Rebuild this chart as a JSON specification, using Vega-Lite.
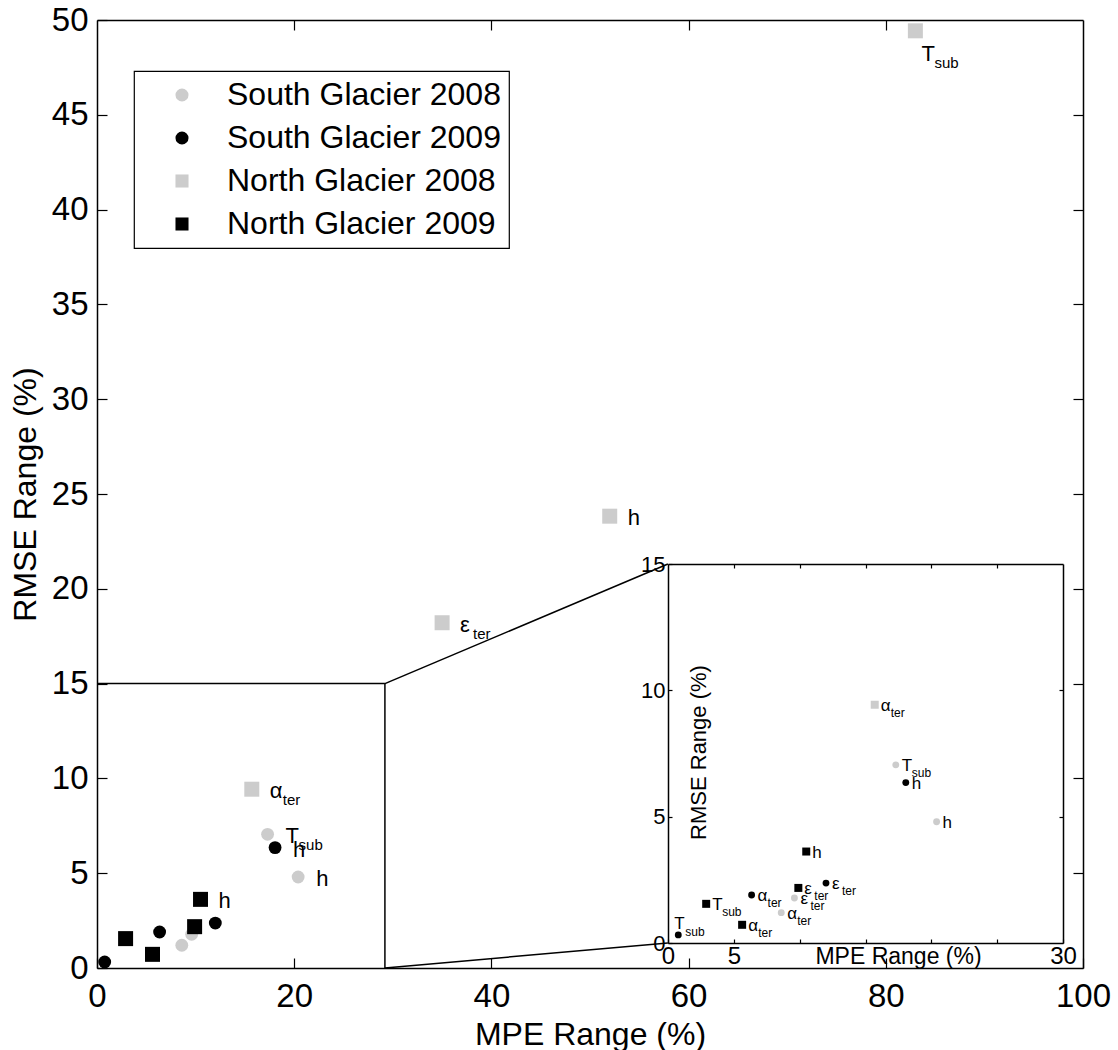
{
  "$schema": "https://vega.github.io/schema/vega-lite/v6.json",
  "width": 986,
  "height": 948,
  "autosize": {"type": "none"},
  "padding": {"left": 97, "top": 20, "right": 35, "bottom": 82},
  "background": "white",
  "datasets": {
    "pts": [
      {"group": "South Glacier 2008", "sym": "α", "sub": "ter", "mpe": 8.6, "rmse": 1.2},
      {"group": "South Glacier 2008", "sym": "ε", "sub": "ter", "mpe": 9.6, "rmse": 1.78},
      {"group": "South Glacier 2008", "sym": "h", "sub": "", "mpe": 20.4, "rmse": 4.8},
      {"group": "South Glacier 2008", "sym": "T", "sub": "sub", "mpe": 17.3, "rmse": 7.05},
      {"group": "South Glacier 2009", "sym": "α", "sub": "ter", "mpe": 6.35, "rmse": 1.9},
      {"group": "South Glacier 2009", "sym": "ε", "sub": "ter", "mpe": 12.0, "rmse": 2.37},
      {"group": "South Glacier 2009", "sym": "h", "sub": "", "mpe": 18.06, "rmse": 6.35},
      {"group": "South Glacier 2009", "sym": "T", "sub": "sub", "mpe": 0.78, "rmse": 0.32},
      {"group": "North Glacier 2008", "sym": "α", "sub": "ter", "mpe": 15.7, "rmse": 9.43},
      {"group": "North Glacier 2008", "sym": "ε", "sub": "ter", "mpe": 35.0, "rmse": 18.21},
      {"group": "North Glacier 2008", "sym": "h", "sub": "", "mpe": 52.0, "rmse": 23.83},
      {"group": "North Glacier 2008", "sym": "T", "sub": "sub", "mpe": 83.0, "rmse": 49.43},
      {"group": "North Glacier 2009", "sym": "α", "sub": "ter", "mpe": 5.63, "rmse": 0.72},
      {"group": "North Glacier 2009", "sym": "ε", "sub": "ter", "mpe": 9.9, "rmse": 2.18},
      {"group": "North Glacier 2009", "sym": "h", "sub": "", "mpe": 10.5, "rmse": 3.62},
      {"group": "North Glacier 2009", "sym": "T", "sub": "sub", "mpe": 2.9, "rmse": 1.55}
    ],
    "guides": [
      {"x": 0, "y": 15, "x2": 29.2, "y2": 15},
      {"x": 29.2, "y": 0, "x2": 29.2, "y2": 15},
      {"x": 29.2, "y": 15, "x2": 57.9, "y2": 21.31},
      {"x": 29.2, "y": 0, "x2": 57.9, "y2": 1.32}
    ]
  },
  "config": {
    "font": "Liberation Sans",
    "view": {"stroke": null},
    "axis": {
      "grid": false,
      "domainColor": "black",
      "domainWidth": 1.5,
      "tickColor": "black",
      "tickWidth": 1.2,
      "labelColor": "black",
      "titleColor": "black",
      "titleFontWeight": "normal",
      "labelFont": "Liberation Sans",
      "titleFont": "Liberation Sans",
      "labelOverlap": false,
      "labelFlush": false
    },
    "legend": {
      "orient": "none",
      "legendX": 37,
      "legendY": 51,
      "strokeColor": "black",
      "strokeWidth": 1.2,
      "fillColor": "white",
      "padding": 8,
      "labelFontSize": 32,
      "labelFont": "Liberation Sans",
      "labelColor": "black",
      "labelLimit": 500,
      "symbolSize": 170,
      "symbolOffset": 24,
      "labelOffset": 29,
      "rowPadding": 11,
      "symbolStrokeWidth": 0
    }
  },
  "resolve": {"scale": {"x": "independent", "y": "independent"}},
  "layer": [
    {
      "resolve": {"axis": {"x": "independent", "y": "independent"}},
      "layer": [
        {
          "data": {"name": "guides"},
          "mark": {"type": "rule", "color": "black", "strokeWidth": 1.5},
          "encoding": {
            "x": {"field": "x", "type": "quantitative", "scale": {"domain": [0, 100], "nice": false, "zero": false},
              "axis": {"orient": "top", "values": [20, 40, 60, 80], "labels": false, "tickSize": -10, "title": null}},
            "y": {"field": "y", "type": "quantitative", "scale": {"domain": [0, 50], "nice": false, "zero": false},
              "axis": {"orient": "right", "values": [5, 10, 15, 20, 25, 30, 35, 40, 45], "labels": false, "tickSize": -10, "title": null}},
            "x2": {"field": "x2"},
            "y2": {"field": "y2"}
          }
        },
        {
          "data": {"name": "pts"},
          "transform": [{"filter": "indexof(datum.group, 'South') == 0"}],
          "mark": {"type": "point", "filled": true, "opacity": 1, "size": 165, "strokeWidth": 0},
          "encoding": {
            "x": {"field": "mpe", "type": "quantitative", "scale": {"domain": [0, 100], "nice": false, "zero": false},
              "axis": {"orient": "bottom", "values": [0, 20, 40, 60, 80, 100], "tickSize": -10, "labelPadding": 48, "labelBaseline": "alphabetic", "labelFontSize": 33, "title": "MPE Range (%)", "titleFontSize": 32, "titleX": 493, "titleY": 76, "titleBaseline": "alphabetic", "titleAlign": "center"}},
            "y": {"field": "rmse", "type": "quantitative", "scale": {"domain": [0, 50], "nice": false, "zero": false},
              "axis": {"orient": "left", "values": [0, 5, 10, 15, 20, 25, 30, 35, 40, 45, 50], "tickSize": -10, "labelPadding": 19, "labelFontSize": 33, "title": "RMSE Range (%)", "titleFontSize": 32, "titleX": -62, "titleY": 474, "titleAngle": -90, "titleBaseline": "alphabetic", "titleAlign": "center"}},
            "color": {"field": "group", "type": "nominal", "legend": {"title": null},
              "scale": {"domain": ["South Glacier 2008", "South Glacier 2009", "North Glacier 2008", "North Glacier 2009"], "range": ["#cccccc", "#000000", "#cccccc", "#000000"]}},
            "shape": {"field": "group", "type": "nominal", "legend": {"title": null},
              "scale": {"domain": ["South Glacier 2008", "South Glacier 2009", "North Glacier 2008", "North Glacier 2009"], "range": ["circle", "circle", "square", "square"]}}
          }
        },
        {
          "data": {"name": "pts"},
          "transform": [{"filter": "indexof(datum.group, 'North') == 0"}],
          "mark": {"type": "point", "filled": true, "opacity": 1, "size": 225, "strokeWidth": 0},
          "encoding": {
            "x": {"field": "mpe", "type": "quantitative", "axis": null},
            "y": {"field": "rmse", "type": "quantitative", "axis": null},
            "color": {"field": "group", "type": "nominal", "legend": {"title": null}},
            "shape": {"field": "group", "type": "nominal", "legend": {"title": null}}
          }
        },
        {
          "data": {"name": "pts"},
          "transform": [{"filter": "(datum.sym == 'h' || datum.group == 'North Glacier 2008' || (datum.group == 'South Glacier 2008' && datum.sym == 'T')) && !(datum.group == 'North Glacier 2008' && datum.sym == 'T')"}],
          "mark": {"type": "text", "align": "left", "baseline": "alphabetic", "dx": 18, "dy": 9, "fontSize": 22, "font": "Liberation Sans", "color": "black"},
          "encoding": {
            "x": {"field": "mpe", "type": "quantitative", "axis": null},
            "y": {"field": "rmse", "type": "quantitative", "axis": null},
            "text": {"field": "sym"}
          }
        },
        {
          "data": {"name": "pts"},
          "transform": [{"filter": "(datum.sym == 'h' || datum.group == 'North Glacier 2008' || (datum.group == 'South Glacier 2008' && datum.sym == 'T')) && !(datum.group == 'North Glacier 2008' && datum.sym == 'T')"}],
          "mark": {"type": "text", "align": "left", "baseline": "alphabetic", "dx": 31, "dy": 16, "fontSize": 15, "font": "Liberation Sans", "color": "black"},
          "encoding": {
            "x": {"field": "mpe", "type": "quantitative", "axis": null},
            "y": {"field": "rmse", "type": "quantitative", "axis": null},
            "text": {"field": "sub"}
          }
        },
        {
          "data": {"name": "pts"},
          "transform": [{"filter": "datum.group == 'North Glacier 2008' && datum.sym == 'T'"}],
          "mark": {"type": "text", "align": "left", "baseline": "alphabetic", "dx": 6, "dy": 30, "fontSize": 22, "font": "Liberation Sans", "color": "black"},
          "encoding": {
            "x": {"field": "mpe", "type": "quantitative", "axis": null},
            "y": {"field": "rmse", "type": "quantitative", "axis": null},
            "text": {"field": "sym"}
          }
        },
        {
          "data": {"name": "pts"},
          "transform": [{"filter": "datum.group == 'North Glacier 2008' && datum.sym == 'T'"}],
          "mark": {"type": "text", "align": "left", "baseline": "alphabetic", "dx": 19, "dy": 37, "fontSize": 15, "font": "Liberation Sans", "color": "black"},
          "encoding": {
            "x": {"field": "mpe", "type": "quantitative", "axis": null},
            "y": {"field": "rmse", "type": "quantitative", "axis": null},
            "text": {"field": "sub"}
          }
        }
      ]
    },
    {
      "data": {"name": "pts"},
      "transform": [{"filter": "datum.mpe <= 30 && datum.rmse <= 15"}],
      "resolve": {"axis": {"x": "independent", "y": "independent"}},
      "layer": [
        {
          "mark": {"type": "point", "opacity": 0},
          "encoding": {
            "x": {"field": "mpe", "type": "quantitative", "scale": {"domain": [0, 30], "range": [571, 966], "nice": false, "zero": false},
              "axis": {"orient": "top", "offset": -544, "values": [5, 10, 15, 20, 25], "labels": false, "tickSize": -4, "title": null}},
            "y": {"field": "rmse", "type": "quantitative", "scale": {"domain": [0, 15], "range": [923, 544], "nice": false, "zero": false},
              "axis": {"orient": "right", "offset": -20, "values": [5, 10], "labels": false, "tickSize": -4, "title": null}}
          }
        },
        {
          "transform": [{"filter": "indexof(datum.group, 'South') == 0"}],
          "mark": {"type": "point", "filled": true, "opacity": 1, "size": 47, "strokeWidth": 0},
          "encoding": {
            "x": {"field": "mpe", "type": "quantitative",
              "axis": {"orient": "bottom", "offset": -25, "values": [0, 5, 10, 15, 20, 25, 30], "labelExpr": "datum.value == 0 || datum.value == 5 || datum.value == 30 ? datum.label : ''", "tickSize": -4, "labelPadding": 24, "labelBaseline": "alphabetic", "labelFontSize": 24, "title": "MPE Range (%)", "titleFontSize": 23, "titleX": 801, "titleY": 20, "titleBaseline": "alphabetic", "titleAlign": "center"}},
            "y": {"field": "rmse", "type": "quantitative",
              "axis": {"orient": "left", "offset": -571, "values": [0, 5, 10, 15], "tickSize": -4, "labelPadding": 7, "labelFontSize": 22, "title": "RMSE Range (%)", "titleFontSize": 22, "titleX": 37, "titleY": 732, "titleAngle": -90, "titleBaseline": "alphabetic", "titleAlign": "center"}},
            "color": {"field": "group", "type": "nominal", "legend": {"title": null}},
            "shape": {"field": "group", "type": "nominal", "legend": {"title": null}}
          }
        },
        {
          "transform": [{"filter": "indexof(datum.group, 'North') == 0"}],
          "mark": {"type": "point", "filled": true, "opacity": 1, "size": 64, "strokeWidth": 0},
          "encoding": {
            "x": {"field": "mpe", "type": "quantitative", "axis": null},
            "y": {"field": "rmse", "type": "quantitative", "axis": null},
            "color": {"field": "group", "type": "nominal", "legend": {"title": null}},
            "shape": {"field": "group", "type": "nominal", "legend": {"title": null}}
          }
        },
        {
          "transform": [{"filter": "!(datum.group == 'South Glacier 2009' && datum.sym == 'T')"}],
          "mark": {"type": "text", "align": "left", "baseline": "alphabetic", "dx": 6, "dy": 6, "fontSize": 17, "font": "Liberation Sans", "color": "black"},
          "encoding": {
            "x": {"field": "mpe", "type": "quantitative", "axis": null},
            "y": {"field": "rmse", "type": "quantitative", "axis": null},
            "text": {"field": "sym"}
          }
        },
        {
          "transform": [{"filter": "!(datum.group == 'South Glacier 2009' && datum.sym == 'T')"}],
          "mark": {"type": "text", "align": "left", "baseline": "alphabetic", "dx": 16, "dy": 12, "fontSize": 12, "font": "Liberation Sans", "color": "black"},
          "encoding": {
            "x": {"field": "mpe", "type": "quantitative", "axis": null},
            "y": {"field": "rmse", "type": "quantitative", "axis": null},
            "text": {"field": "sub"}
          }
        },
        {
          "transform": [{"filter": "datum.group == 'South Glacier 2009' && datum.sym == 'T'"}],
          "mark": {"type": "text", "align": "left", "baseline": "alphabetic", "dx": -4, "dy": -6, "fontSize": 17, "font": "Liberation Sans", "color": "black"},
          "encoding": {
            "x": {"field": "mpe", "type": "quantitative", "axis": null},
            "y": {"field": "rmse", "type": "quantitative", "axis": null},
            "text": {"field": "sym"}
          }
        },
        {
          "transform": [{"filter": "datum.group == 'South Glacier 2009' && datum.sym == 'T'"}],
          "mark": {"type": "text", "align": "left", "baseline": "alphabetic", "dx": 7, "dy": 1, "fontSize": 12, "font": "Liberation Sans", "color": "black"},
          "encoding": {
            "x": {"field": "mpe", "type": "quantitative", "axis": null},
            "y": {"field": "rmse", "type": "quantitative", "axis": null},
            "text": {"field": "sub"}
          }
        }
      ]
    }
  ]
}
